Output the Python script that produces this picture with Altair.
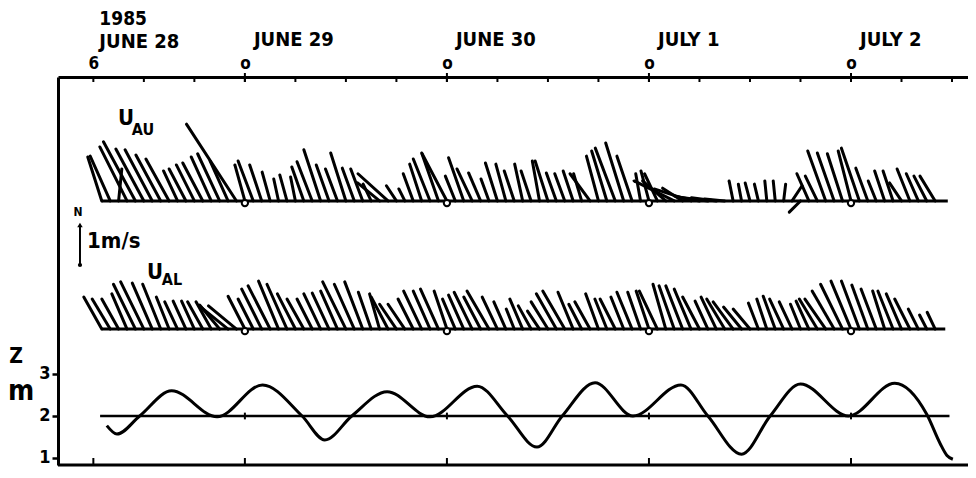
import altair as alt
import pandas as pd

# ---------------- data (time = hours since 1985-06-28 00:00) ----------------
HOURS = list(range(7, 107))  # hourly current vectors

# U_AU : east (u) and north (v) components, m/s
AU_U = [-0.35, -0.50, 0.08, -0.68, -0.80, -0.70, -0.68, -0.62, -0.58, -0.35,
        -0.42, -0.45, -0.50, -0.50, -0.55, -0.45, -1.25, -0.25, -0.38, -0.30,
        -0.20, -0.12, -0.18, -0.12, -0.30, -0.38, -0.42, -0.32, -0.30, -0.38,
        -0.30, -0.30, -0.20, -0.55, -0.75, -0.25, -0.15, -0.25, -0.30, -0.42,
        -0.42, -0.62, -0.25, -0.38, -0.38, -0.30, -0.20, -0.30, -0.25, -0.25,
        -0.20, -0.25, -0.18, -0.32, -0.25, -0.25, -0.25, -0.20, -0.50, -0.30,
        -0.38, -0.50, -0.45, -0.38, -0.12, -0.20, -0.32, -0.58, -1.00, -0.50,
        -0.92, -0.62, -0.75, -0.62, -0.50, -0.10, -0.08, -0.12, -0.10, -0.05,
        -0.05, 0.05, 0.25, -0.28, -0.30, -0.30, -0.45, -0.42, -0.38, -0.32,
        -0.45, -0.30, -0.20, -0.25, -0.25, -0.30, -0.32, -0.30, -0.32, -0.38]
AU_V = [1.10, 1.12, 0.80, 1.35, 1.48, 1.30, 1.28, 1.15, 1.05, 0.75,
        0.80, 0.90, 0.95, 1.10, 1.18, 1.00, 1.92, 0.90, 1.00, 0.90,
        0.72, 0.55, 0.65, 0.60, 0.85, 0.98, 1.28, 0.90, 0.80, 1.20,
        0.82, 0.80, 0.42, 0.45, 0.68, 0.38, 0.30, 0.68, 0.92, 1.05,
        1.20, 1.18, 0.62, 1.08, 0.80, 0.70, 0.55, 0.95, 0.92, 0.75,
        0.92, 0.75, 1.00, 1.00, 0.70, 0.68, 0.75, 0.68, 0.68, 1.12,
        1.25, 1.32, 1.45, 1.12, 0.68, 0.75, 0.68, 0.50, 0.50, 0.32,
        0.30, 0.12, 0.10, 0.08, 0.05, 0.50, 0.42, 0.45, 0.42, 0.50,
        0.50, 0.42, 0.38, -0.28, 0.68, 0.62, 1.25, 1.20, 1.18, 1.25,
        1.32, 0.82, 0.50, 0.75, 0.75, 0.45, 0.80, 0.68, 0.62, 0.62]

# U_AL
AL_U = [-0.45, -0.45, -0.42, -0.38, -0.55, -0.58, -0.50, -0.45, -0.32, -0.32,
        -0.32, -0.32, -0.38, -0.38, -0.50, -0.68, -0.70, -0.42, -0.38, -0.50,
        -0.55, -0.50, -0.50, -0.45, -0.42, -0.38, -0.42, -0.42, -0.42, -0.58,
        -0.50, -0.45, -0.32, -0.25, -0.42, -0.42, -0.42, -0.38, -0.45, -0.42,
        -0.45, -0.32, -0.32, -0.38, -0.45, -0.42, -0.55, -0.38, -0.30, -0.20,
        -0.32, -0.32, -0.30, -0.42, -0.50, -0.55, -0.38, -0.32, -0.38, -0.32,
        -0.30, -0.38, -0.32, -0.38, -0.32, -0.32, -0.45, -0.32, -0.38, -0.42,
        -0.42, -0.42, -0.32, -0.38, -0.45, -0.50, -0.45, -0.42, -0.25, -0.25,
        -0.30, -0.35, -0.32, -0.25, -0.32, -0.45, -0.52, -0.55, -0.55, -0.50,
        -0.45, -0.40, -0.38, -0.30, -0.38, -0.38, -0.38, -0.25, -0.18, -0.20]
AL_V = [0.80, 0.75, 0.75, 0.88, 1.12, 1.18, 1.15, 1.12, 0.80, 0.68,
        0.70, 0.70, 0.68, 0.68, 0.60, 0.55, 0.58, 0.82, 0.75, 1.00,
        1.08, 1.20, 1.12, 0.88, 0.75, 0.75, 0.88, 0.90, 0.95, 1.18,
        1.12, 1.18, 0.92, 0.88, 0.80, 0.62, 0.62, 0.75, 0.95, 0.95,
        1.00, 0.95, 0.75, 0.85, 0.92, 0.80, 0.95, 0.80, 0.68, 0.50,
        0.75, 0.58, 0.45, 0.68, 0.88, 0.95, 0.92, 0.62, 0.68, 0.88,
        0.75, 0.75, 0.80, 0.92, 0.92, 0.95, 0.95, 1.12, 1.08, 1.08,
        1.00, 0.80, 0.70, 0.80, 0.75, 0.68, 0.55, 0.50, 0.65, 0.75,
        0.82, 0.75, 0.68, 0.62, 0.70, 0.75, 0.75, 0.95, 1.12, 1.20,
        1.20, 1.10, 1.00, 0.95, 0.95, 0.88, 0.75, 0.50, 0.35, 0.42]

# water level Z (m)
TIDE_T = [7.6, 8.8, 11.5, 15.3, 20.7, 26.1, 30.8, 33.5, 36.7, 40.9,
          46.0, 51.6, 55.2, 58.7, 61.7, 65.6, 70.1, 75.8, 79.0, 83.0,
          86.4, 90.0, 95.7, 101.2, 105.0, 106.6, 107.4, 108.1]
TIDE_Z = [1.77, 1.57, 2.00, 2.60, 1.98, 2.74, 2.00, 1.43, 2.00, 2.58,
          1.98, 2.71, 2.00, 1.26, 2.00, 2.79, 2.00, 2.74, 2.00, 1.09,
          2.00, 2.76, 2.00, 2.78, 2.04, 1.34, 1.06, 0.97]
Z_MEAN = 2.0
Z_TICKS = [1, 2, 3]

TOP_LABEL_T = [6, 24, 48, 72, 96]
DAY_T = [24, 48, 72, 96]
DAY_LABELS = ["JUNE 29", "JUNE 30", "JULY 1", "JULY 2"]
FIRST_T = [6]
YEAR_TEXT = ["1985"]
FIRST_DAY_TEXT = ["JUNE 28"]
TICK6_T = list(range(6, 109, 6))

# ---------------- layout ----------------
FONT = "'DejaVu Sans Condensed', 'Liberation Sans Narrow', 'DejaVu Sans', sans-serif"
W, H = 910, 388
T0, T1 = 1.8, 109.9
Z0, Z1 = 0.8333, 10.071
PX_PER_H = W / (T1 - T0)
PX_PER_Z = H / (Z1 - Z0)
PX_PER_MS = 40.0
KX = PX_PER_MS / PX_PER_H
KY = PX_PER_MS / PX_PER_Z
AU_BASE, AL_BASE = 7.12, 4.07
ARROW_T, ARROW_Z = 4.41, 5.595

xs = alt.Scale(domain=[T0, T1], nice=False, zero=False)
ys = alt.Scale(domain=[Z0, Z1], nice=False, zero=False)

top_axis = alt.Axis(orient="top", values=TOP_LABEL_T,
                    labelExpr="datum.value == 6 ? '6' : 'o'",
                    ticks=False, domain=True, domainColor="black",
                    domainWidth=3, grid=False, title=None, labelFont=FONT,
                    labelFontSize=17, labelFontWeight="bold", labelColor="black",
                    labelPadding=5, labelFlush=False, labelOverlap=False)
z_axis = alt.Axis(orient="left", values=Z_TICKS, format="d", tickSize=6,
                  tickWidth=2.5, tickColor="black", domainColor="black",
                  domainWidth=3, grid=False, title=None, labelFont=FONT,
                  labelFontSize=18, labelFontWeight="bold", labelColor="black",
                  labelPadding=2)


def X(f):
    return alt.X(f, type="quantitative", scale=xs, axis=top_axis)


def Y(f):
    return alt.Y(f, type="quantitative", scale=ys, axis=z_axis)


sticks = pd.DataFrame({
    "t": HOURS + HOURS,
    "u": AU_U + AL_U,
    "v": AU_V + AL_V,
    "base": [AU_BASE] * len(HOURS) + [AL_BASE] * len(HOURS),
})
sticks["tx"] = sticks["t"] + sticks["u"] * KX
sticks["ty"] = sticks["base"] + sticks["v"] * KY

tide_df = pd.DataFrame({"t": TIDE_T, "z": TIDE_Z})

tide = alt.Chart(tide_df).mark_line(interpolate="monotone", color="black",
                                    strokeWidth=3).encode(x=X("t"), y=Y("z"))

zline = alt.Chart(pd.DataFrame({"a": [6.8], "b": [107.7], "z": [Z_MEAN]})).mark_rule(
    color="black", strokeWidth=2.5).encode(x=X("a"), x2="b:Q", y=Y("z"))

zday = alt.Chart(pd.DataFrame({"t": DAY_T, "lo": [Z_MEAN - 0.08] * 4,
                               "hi": [Z_MEAN + 0.08] * 4})).mark_rule(
    color="black", strokeWidth=2).encode(x=X("t"), y=Y("lo"), y2="hi:Q")

baselines = alt.Chart(pd.DataFrame({"a": [7.0, 7.0], "b": [107.5, 107.2],
                                    "base": [AU_BASE, AL_BASE]})).mark_rule(
    color="black", strokeWidth=3).encode(x=X("a"), x2="b:Q", y=Y("base"))

stick_layer = alt.Chart(sticks).mark_rule(color="black", strokeWidth=3,
                                          strokeCap="round").encode(
    x=X("t"), y=Y("base"), x2="tx:Q", y2="ty:Q")

circ_df = pd.DataFrame({"t": DAY_T * 2,
                        "y": [AU_BASE - 0.05] * 4 + [AL_BASE - 0.05] * 4})
circles = alt.Chart(circ_df).mark_point(shape="circle", size=40, filled=True,
                                        fill="white", stroke="black",
                                        strokeWidth=2, opacity=1).encode(
    x=X("t"), y=Y("y"))

top_ticks = alt.Chart(pd.DataFrame({"t": TICK6_T})).mark_rule(
    color="black", strokeWidth=2).encode(x=X("t"), y=alt.value(0), y2=alt.value(5))
top_day_ticks = alt.Chart(pd.DataFrame({"t": DAY_T})).mark_rule(
    color="black", strokeWidth=2).encode(x=X("t"), y=alt.value(-4), y2=alt.value(5))
bottom_ticks = alt.Chart(pd.DataFrame({"t": TOP_LABEL_T})).mark_rule(
    color="black", strokeWidth=2).encode(x=X("t"), y=alt.value(H - 7), y2=alt.value(H))
bottom_line = alt.Chart(pd.DataFrame({"k": [0]})).mark_rule(
    color="black", strokeWidth=3).encode(x=alt.value(0), x2=alt.value(W), y=alt.value(H))

day_text = alt.Chart(pd.DataFrame({"t": DAY_T, "label": DAY_LABELS})).mark_text(
    align="left", baseline="middle", dx=9, font=FONT, fontSize=20,
    fontWeight="bold", color="black").encode(x=X("t"), y=alt.value(-37), text="label:N")
year_text = alt.Chart(pd.DataFrame({"t": FIRST_T, "label": YEAR_TEXT})).mark_text(
    align="left", baseline="middle", dx=6, font=FONT, fontSize=19,
    fontWeight="bold", color="black").encode(x=X("t"), y=alt.value(-58), text="label:N")
first_day_text = alt.Chart(pd.DataFrame({"t": FIRST_T, "label": FIRST_DAY_TEXT})).mark_text(
    align="left", baseline="middle", dx=6, font=FONT, fontSize=20,
    fontWeight="bold", color="black").encode(x=X("t"), y=alt.value(-35), text="label:N")


def label(txt, x, y, size, align="center"):
    return alt.Chart(pd.DataFrame({"label": [txt]})).mark_text(
        align=align, baseline="middle", font=FONT, fontSize=size,
        fontWeight="bold", color="black").encode(
        x=alt.value(x), y=alt.value(y), text="label:N")


texts = [
    label("Z", -42, 280, 21),
    label("m", -37, 315, 28),
    label("U", 68, 41, 22),
    label("AU", 85, 53, 16),
    label("U", 97, 195, 22),
    label("AL", 114, 203, 16),
    label("N", 20, 135, 12),
    label("1m/s", 29, 164, 22, align="left"),
]

arrow_df = pd.DataFrame({"t": [ARROW_T], "z0": [ARROW_Z], "z1": [ARROW_Z + 1.0 * KY]})
arrow = alt.Chart(arrow_df).mark_rule(color="black", strokeWidth=2).encode(
    x=X("t"), y=Y("z0"), y2="z1:Q")
arrow_head = alt.Chart(arrow_df).mark_point(shape="triangle-up", size=30, filled=True,
                                            color="black", opacity=1).encode(
    x=X("t"), y=Y("z1"))
arrow_tail = alt.Chart(arrow_df).mark_point(shape="circle", size=18, filled=True,
                                            color="black", opacity=1).encode(
    x=X("t"), y=Y("z0"))

chart = alt.layer(
    tide, zline, zday, baselines, stick_layer, circles,
    top_ticks, top_day_ticks, bottom_ticks, bottom_line,
    day_text, year_text, first_day_text, *texts,
    arrow, arrow_head, arrow_tail,
).properties(
    width=W, height=H,
    padding={"left": 50, "top": 69, "right": 0, "bottom": 4},
    autosize=alt.AutoSizeParams(type="none"),
    background="white",
).configure_view(stroke=None)

chart.save("out.html", embed_options={"renderer": "svg", "actions": False})
